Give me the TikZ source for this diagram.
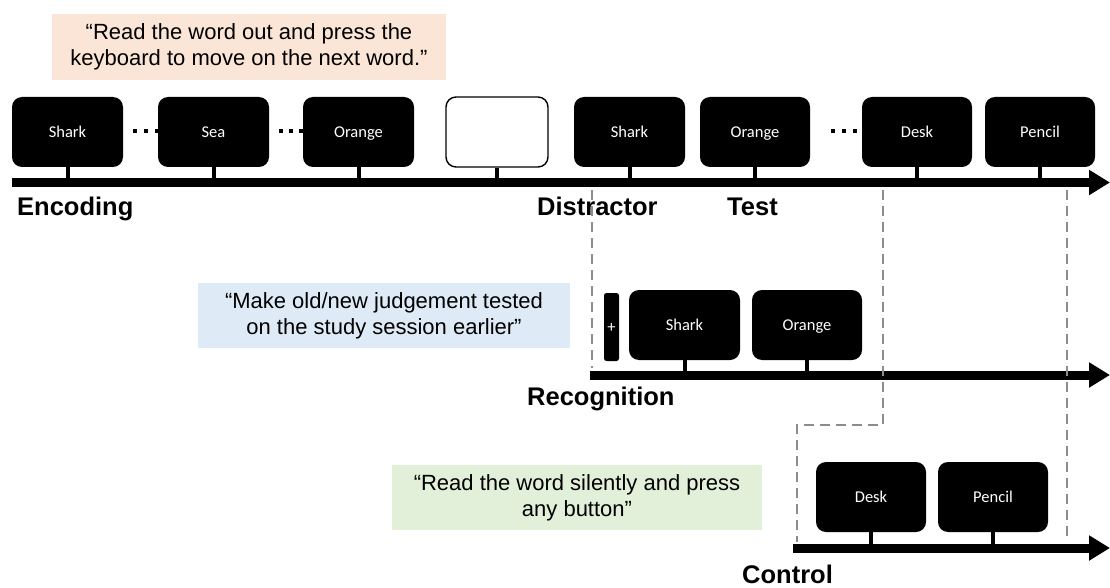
\documentclass[tikz,border=0pt]{standalone}
\usepackage{fontspec}
\setmainfont{Liberation Sans}
\newfontfamily\screenfont{Carlito}
\usetikzlibrary{arrows.meta}

\definecolor{peach}{HTML}{FBE5D6}
\definecolor{paleblue}{HTML}{DEEBF7}
\definecolor{palegreen}{HTML}{E2F0D9}
\definecolor{guidegray}{HTML}{8C8C8C}

\tikzset{
  screen/.style={fill=black, rounded corners=10pt, minimum width=111pt,
    minimum height=70pt, inner sep=0pt, text=white,
    text height=10.5pt, text depth=0pt,
    font=\screenfont\fontsize{16.5}{19}\selectfont},
  blankscreen/.style={screen, fill=white, draw=black, line width=1.4pt,
    minimum width=102pt},
  fixation/.style={screen, rounded corners=2.5pt, minimum width=15pt,
    minimum height=68pt},
  stem/.style={line width=4pt},
  timeline/.style={line width=9pt, -{Triangle[length=21pt,width=24pt]}},
  instruction/.style={inner sep=0pt, align=center,
    font=\fontsize{22}{26}\selectfont},
  phase/.style={anchor=base west, inner sep=0pt,
    font=\bfseries\fontsize{25.5}{28}\selectfont},
  guide/.style={draw=guidegray, line width=1.8pt, dash pattern=on 10pt off 6pt},
  dotmark/.style={fill=black}
}

\begin{document}
\begin{tikzpicture}[x=1pt,y=-1pt]
\useasboundingbox (0,0) rectangle (1110,588);

% ---------- instructions ----------
\node[instruction, fill=peach, minimum width=394pt, minimum height=66pt]
  (qenc) at (249,47) {“Read the word out and press the\\keyboard to move on the next word.”};
\node[instruction, fill=paleblue, minimum width=372pt, minimum height=65pt]
  (qrec) at (384,315.5) {“Make old/new judgement tested\\on the study session earlier”};
\node[instruction, fill=palegreen, minimum width=370pt, minimum height=65pt]
  (qctl) at (577,497.5) {“Read the word silently and press\\any button”};

% ---------- main timeline ----------
\coordinate (mainL) at (12,182.5);
\coordinate (mainR) at (1110,182.5);
\draw[timeline] (mainL) -- (mainR);

\node[screen] (e1) at (67.5,132) {Shark};
\node[screen] (e2) at (213.5,132) {Sea};
\node[screen] (e3) at (358.5,132) {Orange};
\node[blankscreen] (dis) at (497,132) {};
\node[screen] (t1) at (629.5,132) {Shark};
\node[screen, minimum width=110pt] (t2) at (755,132) {Orange};
\node[screen, minimum width=110pt] (t3) at (917,132) {Desk};
\node[screen, minimum width=110pt] (t4) at (1040,132) {Pencil};

\foreach \s in {e1,e2,e3,dis,t1,t2,t3,t4}
  \draw[stem] (\s.south) -- (\s.south |- mainL);

% ellipses between screens
\foreach \x in {135,146,157, 281,291,301, 833,844,855}
  \fill[dotmark] (\x-1.6,129.5) rectangle (\x+1.6,133);

\node[phase] (lenc) at (17,215) {Encoding};
\node[phase] (ldis) at (537,215) {Distractor};
\node[phase] (ltest) at (727,215) {Test};

% ---------- recognition timeline ----------
\coordinate (recL) at (590,375);
\coordinate (recR) at (1110,375);
\draw[timeline] (recL) -- (recR);

\node[fixation] (fix) at (611.5,327) {+};
\node[screen] (r1) at (684.5,325) {Shark};
\node[screen, minimum width=110pt] (r2) at (807,325) {Orange};
\foreach \s in {r1,r2}
  \draw[stem] (\s.south) -- (\s.south |- recL);

\node[phase] (lrec) at (527,405) {Recognition};

% ---------- control timeline ----------
\coordinate (ctlL) at (793,548);
\coordinate (ctlR) at (1110,548);
\draw[timeline] (ctlL) -- (ctlR);

\node[screen, minimum width=110pt] (c1) at (871,497) {Desk};
\node[screen, minimum width=110pt] (c2) at (993,497) {Pencil};
\foreach \s in {c1,c2}
  \draw[stem] (\s.south) -- (\s.south |- ctlL);

\node[phase] (lctl) at (742,583) {Control};

% ---------- dashed guides ----------
\coordinate (g1a) at (592,190);
\coordinate (g1b) at (592,368);
\coordinate (g2a) at (883,190);
\coordinate (g2b) at (883,425);
\coordinate (g2c) at (797,425);
\coordinate (g2d) at (797,542);
\coordinate (g3a) at (1067,190);
\coordinate (g3b) at (1067,542);
\draw[guide] (g1a) -- (g1b);
\draw[guide] (g2a) -- (g2b) -- (g2c) -- (g2d);
\draw[guide] (g3a) -- (g3b);
\end{tikzpicture}
\end{document}
